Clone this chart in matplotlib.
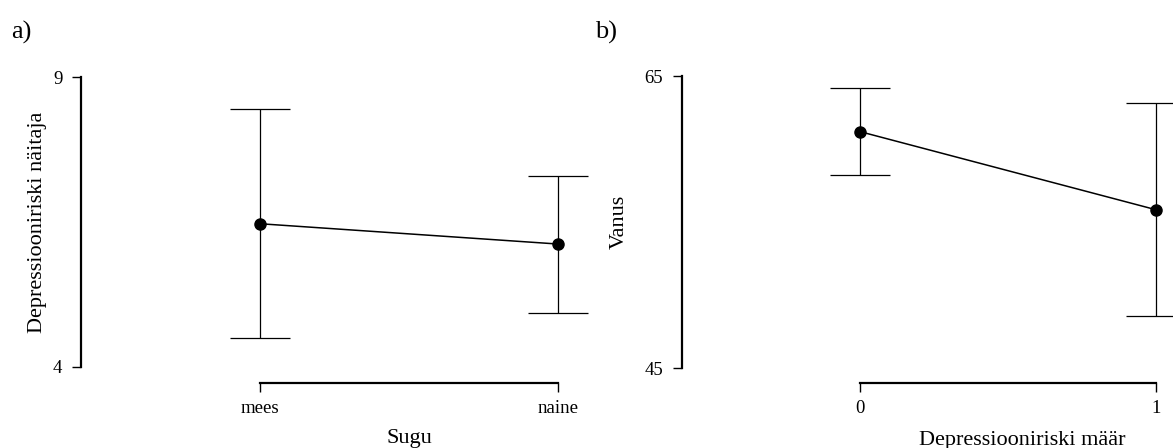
import numpy as np
import matplotlib.pyplot as plt

plt.rcParams['font.family'] = ['Liberation Serif', 'DejaVu Serif']

# panel a: depression score by sex
sex_labels = ['mees', 'naine']
dep_mean = [6.47, 6.12]
dep_lower = [4.50, 4.93]
dep_upper = [8.45, 7.29]

# panel b: age by depression risk
risk_labels = ['0', '1']
age_mean = [61.19, 55.84]
age_lower = [58.20, 48.56]
age_upper = [64.16, 63.17]

W, H = 1173, 448
fig = plt.figure(figsize=(W / 100, H / 100), dpi=100)


def px(x0, y_top, x1, y_bot):
    return [x0 / W, 1 - y_bot / H, (x1 - x0) / W, (y_bot - y_top) / H]


def panel(ax, labels, mean, lower, upper, ylo, yhi, yticks, xlim, ylim,
          xlabel, ylabel, xlab_pos, ylab_pos):
    x = np.arange(len(labels))
    mean = np.array(mean)
    err = [mean - np.array(lower), np.array(upper) - mean]
    ax.errorbar(x, mean, yerr=err, fmt='none', ecolor='black',
                elinewidth=0.9, capsize=21.5, capthick=0.9)
    ax.plot(x, mean, color='black', lw=1.1, marker='o', markersize=8,
            zorder=3)
    ax.set_xlim(*xlim)
    ax.set_ylim(*ylim)
    for s in ['top', 'right']:
        ax.spines[s].set_visible(False)
    ax.spines['left'].set_bounds(ylo, yhi)
    ax.spines['bottom'].set_bounds(0, len(labels) - 1)
    ax.spines['left'].set_linewidth(1.6)
    ax.spines['bottom'].set_linewidth(1.6)
    ax.set_xticks(x)
    ax.set_xticklabels(labels)
    ax.set_yticks(yticks)
    ax.tick_params(direction='out', length=6.5, width=1.0, labelsize=13.5)
    ax.tick_params(axis='y', pad=7)
    ax.tick_params(axis='x', pad=6)
    ax.set_xlabel(xlabel, fontsize=16)
    ax.set_ylabel(ylabel, fontsize=16)
    ax.xaxis.set_label_coords(*xlab_pos)
    ax.yaxis.set_label_coords(*ylab_pos)


ax1 = fig.add_axes(px(81, 77, 600, 383))
panel(ax1, sex_labels, dep_mean, dep_lower, dep_upper, 4, 9, [4, 9],
      (-0.6007, 1.141), (3.724, 9), 'Sugu', 'Depressiooniriski näitaja',
      (0.632, -0.15), (-0.065, 0.525))

ax2 = fig.add_axes(px(682, 76, 1173, 383))
panel(ax2, risk_labels, age_mean, age_lower, age_upper, 45, 65, [45, 65],
      (-0.6014, 1.0574), (43.973, 65), 'Depressiooniriski määr', 'Vanus',
      (0.692, -0.155), (-0.108, 0.525))

fig.text(11 / W, 1 - 39 / H, 'a)', fontsize=19, va='baseline')
fig.text(595 / W, 1 - 39 / H, 'b)', fontsize=19, va='baseline')

fig.savefig('out.png', dpi=100)
